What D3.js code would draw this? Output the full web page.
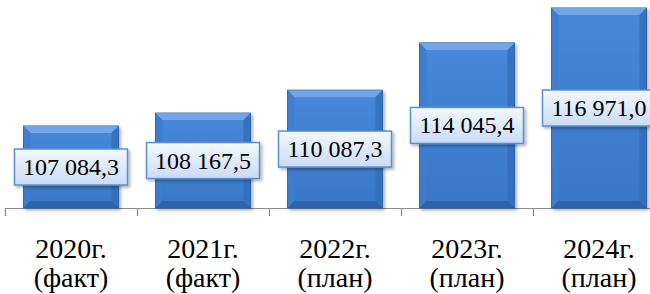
<!DOCTYPE html>
<html>
<head>
<meta charset="utf-8">
<script src="https://cdn.jsdelivr.net/npm/d3@7"></script>
<style>
  body { margin: 0; background: #fff; }
</style>
</head>
<body>
<div class="chart"></div>
<script>
// Data
var years = ["2020г.", "2021г.", "2022г.", "2023г.", "2024г."];
var kinds = ["(факт)", "(факт)", "(план)", "(план)", "(план)"];
var values = [107084.3, 108167.5, 110087.3, 114045.4, 116971.0];
var valueLabels = ["107 084,3", "108 167,5", "110 087,3", "114 045,4", "116 971,0"];

var svgWidth = 650;
var svgHeight = 294;
var axisY = 208;
var fontStack = "\"Liberation Serif\", \"Times New Roman\", Tinos";

var svg = d3.select(".chart").append("svg")
  .attr("width", svgWidth)
  .attr("height", svgHeight);

var defs = svg.append("defs");

var barGrad = defs.append("linearGradient").attr("id", "barGrad")
  .attr("x1", 0).attr("y1", 0).attr("x2", 0).attr("y2", 1);
barGrad.append("stop").attr("offset", "0%").attr("stop-color", "#4688d9");
barGrad.append("stop").attr("offset", "100%").attr("stop-color", "#3a77c6");

var boxGrad = defs.append("linearGradient").attr("id", "boxGrad")
  .attr("x1", 0).attr("y1", 0).attr("x2", 0).attr("y2", 1);
boxGrad.append("stop").attr("offset", "0%").attr("stop-color", "#f4f8ff");
boxGrad.append("stop").attr("offset", "100%").attr("stop-color", "#c9dcf6");

var shadow = defs.append("filter").attr("id", "shadow")
  .attr("x", "-10%").attr("y", "-10%").attr("width", "130%").attr("height", "130%");
shadow.append("feDropShadow").attr("dx", 2).attr("dy", 2).attr("stdDeviation", 1.5)
  .attr("flood-color", "#000").attr("flood-opacity", 0.3);

// Scales (category band is 132px; last one runs past the right edge)
var x = d3.scaleBand().domain(years).range([5, 665]).paddingInner(0.28).paddingOuter(0.14);
var y = d3.scaleLinear().domain([100214, 116971]).range([axisY, 8]);

// Axis line with tick marks between categories
var axis = d3.axisBottom(d3.scaleLinear().domain([0, 5]).range([5, 665]))
  .ticks(5).tickSize(8).tickFormat("");
var axisG = svg.append("g").attr("transform", "translate(0," + axisY + ")").call(axis);
axisG.selectAll("path, line").attr("stroke", "#8c8c8c").attr("stroke-width", 1.2);

// Bars
var bev = 7;
var bars = svg.selectAll("g.bar").data(values).enter().append("g")
  .attr("filter", "url(#shadow)");

bars.append("rect")
  .attr("x", function(d, i) { return x(years[i]); })
  .attr("y", function(d) { return y(d); })
  .attr("width", x.bandwidth())
  .attr("height", function(d) { return axisY - y(d); })
  .attr("fill", "url(#barGrad)")
  .attr("stroke", "#2a5d9f")
  .attr("stroke-width", 1);

function bevelPath(i, side) {
  var x0 = x(years[i]), x1 = x0 + x.bandwidth();
  var y0 = y(values[i]), y1 = axisY;
  if (side === "top") return "M" + x0 + "," + y0 + "L" + x1 + "," + y0 + "L" + (x1 - bev) + "," + (y0 + bev) + "L" + (x0 + bev) + "," + (y0 + bev) + "Z";
  if (side === "left") return "M" + x0 + "," + y0 + "L" + (x0 + bev) + "," + (y0 + bev) + "L" + (x0 + bev) + "," + (y1 - bev) + "L" + x0 + "," + y1 + "Z";
  if (side === "right") return "M" + x1 + "," + y0 + "L" + (x1 - bev) + "," + (y0 + bev) + "L" + (x1 - bev) + "," + (y1 - bev) + "L" + x1 + "," + y1 + "Z";
  return "M" + x0 + "," + y1 + "L" + (x0 + bev) + "," + (y1 - bev) + "L" + (x1 - bev) + "," + (y1 - bev) + "L" + x1 + "," + y1 + "Z";
}
var bevelFill = { top: "#78aaea", left: "#3f7ccd", right: "#3370bd", bottom: "#2c62aa" };
["top", "left", "right", "bottom"].forEach(function(side) {
  bars.append("path")
    .attr("d", function(d, i) { return bevelPath(i, side); })
    .attr("fill", bevelFill[side])
    .attr("opacity", 0.9);
});

// Value labels, centred in each bar
var boxW = 113, boxH = 36;
var labels = svg.selectAll("g.val").data(values).enter().append("g")
  .attr("transform", function(d, i) {
    return "translate(" + (x(years[i]) + x.bandwidth() / 2) + "," + ((y(d) + axisY) / 2) + ")";
  });
labels.append("rect")
  .attr("x", -boxW / 2).attr("y", -boxH / 2)
  .attr("width", boxW).attr("height", boxH)
  .attr("fill", "url(#boxGrad)")
  .attr("stroke", "#5b8fd0")
  .attr("stroke-width", 1.5)
  .attr("filter", "url(#shadow)");
labels.append("text")
  .attr("fill", "#000")
  .attr("text-anchor", "middle")
  .attr("y", 8)
  .style("font-family", fontStack)
  .style("font-size", "24px")
  .text(function(d, i) { return valueLabels[i]; });

// Category labels, two lines each
var cats = svg.selectAll("text.cat").data(years).enter().append("text")
  .attr("fill", "#000")
  .attr("text-anchor", "middle")
  .style("font-family", fontStack)
  .style("font-size", "28px");
cats.append("tspan")
  .attr("x", function(d) { return x(d) + x.bandwidth() / 2; })
  .attr("y", 258)
  .text(function(d) { return d; });
cats.append("tspan")
  .attr("x", function(d) { return x(d) + x.bandwidth() / 2; })
  .attr("y", 287)
  .text(function(d, i) { return kinds[i]; });
</script>
</body>
</html>
